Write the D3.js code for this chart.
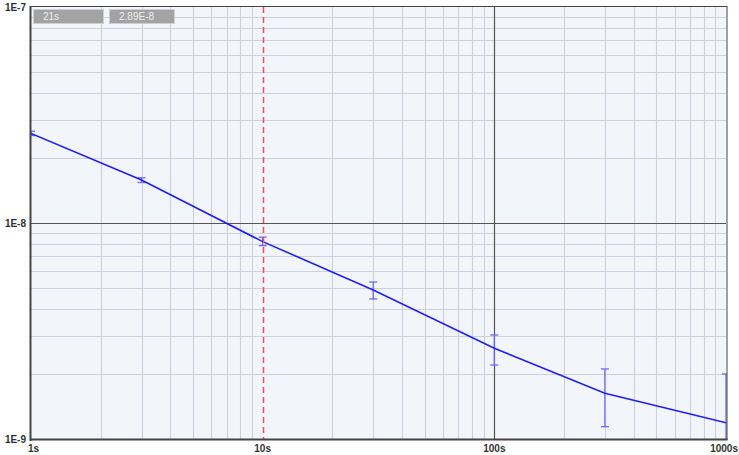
<!DOCTYPE html>
<html><head><meta charset="utf-8">
<script src="https://cdn.jsdelivr.net/npm/d3@7"></script>
<style>body{margin:0;background:#fff}svg{display:block}</style>
</head><body>
<svg id="c" width="739" height="455"></svg>
<script>
const taus = [1, 3, 10, 30, 100, 300, 1000];
const values = [2.6e-8, 1.58e-8, 8.2e-9, 4.9e-9, 2.63e-9, 1.63e-9, 1.19e-9];
const errLow = [2.54e-8, 1.54e-8, 7.85e-9, 4.45e-9, 2.2e-9, 1.14e-9, 0.7e-9];
const errHigh = [2.66e-8, 1.62e-8, 8.6e-9, 5.33e-9, 3.03e-9, 2.11e-9, 2.0e-9];
const xTicks = [1, 10, 100, 1000];
const xTickLabels = ["1s", "10s", "100s", "1000s"];
const yTicks = [1e-9, 1e-8, 1e-7];
const yTickLabels = ["1E-9", "1E-8", "1E-7"];
const cursorX = 10;
const readout = ["21s", "2.89E-8"];

const svg = d3.select("#c");
const L = 31, R = 726, T = 7, B = 439;
const x = d3.scaleLog().domain([1, 1000]).range([L, R]);
const y = d3.scaleLog().domain([1e-9, 1e-7]).range([B, T]);

svg.append("rect").attr("x", L).attr("y", T).attr("width", R - L).attr("height", B - T).attr("fill", "#f2f6fb");
svg.append("defs").append("clipPath").attr("id", "clip").append("rect")
  .attr("x", L).attr("y", T).attr("width", R - L + 1).attr("height", B - T);

const g = svg.append("g");
const xMinor = [], yMinor = [];
[1, 10, 100].forEach(d => { for (let k = 2; k <= 9; k++) xMinor.push(d * k); });
[1e-9, 1e-8].forEach(d => { for (let k = 2; k <= 9; k++) yMinor.push(d * k); });
g.selectAll(".vx").data(xMinor).join("line")
  .attr("x1", d => Math.round(x(d)) + 0.5).attr("x2", d => Math.round(x(d)) + 0.5)
  .attr("y1", T).attr("y2", B).attr("stroke", "#cbd2db").attr("stroke-width", 1.1);
g.selectAll(".hy").data(yMinor).join("line")
  .attr("y1", d => Math.round(y(d)) + 0.5).attr("y2", d => Math.round(y(d)) + 0.5)
  .attr("x1", L).attr("x2", R).attr("stroke", "#cbd2db").attr("stroke-width", 1.1);
g.selectAll(".mx").data(xTicks.filter(d => d > 1 && d < 1000 && d !== cursorX)).join("line")
  .attr("x1", d => Math.round(x(d)) + 0.5).attr("x2", d => Math.round(x(d)) + 0.5)
  .attr("y1", T).attr("y2", B).attr("stroke", "#555").attr("stroke-width", 1.2);
g.selectAll(".my").data(yTicks.filter(d => d > 1e-9 && d < 1e-7)).join("line")
  .attr("y1", d => Math.round(y(d)) + 0.5).attr("y2", d => Math.round(y(d)) + 0.5)
  .attr("x1", L).attr("x2", R).attr("stroke", "#555").attr("stroke-width", 1.2);

// data
const pg = svg.append("g").attr("clip-path", "url(#clip)");
const idx = d3.range(taus.length);
pg.selectAll(".eb").data(idx).join("line")
  .attr("x1", i => x(taus[i])).attr("x2", i => x(taus[i]))
  .attr("y1", i => y(errLow[i])).attr("y2", i => y(errHigh[i]))
  .attr("stroke", "#6a6aff").attr("stroke-width", 1.3);
pg.selectAll(".ct").data(idx).join("line")
  .attr("x1", i => x(taus[i]) - 4).attr("x2", i => x(taus[i]) + 4)
  .attr("y1", i => y(errHigh[i])).attr("y2", i => y(errHigh[i]))
  .attr("stroke", "#6a6aff").attr("stroke-width", 1.3);
pg.selectAll(".cb").data(idx).join("line")
  .attr("x1", i => x(taus[i]) - 4).attr("x2", i => x(taus[i]) + 4)
  .attr("y1", i => y(errLow[i])).attr("y2", i => y(errLow[i]))
  .attr("stroke", "#6a6aff").attr("stroke-width", 1.3);
pg.append("path").datum(idx)
  .attr("d", d3.line().x(i => x(taus[i])).y(i => y(values[i])))
  .attr("fill", "none").attr("stroke", "#1f1fff").attr("stroke-width", 1.6);

// cursor (drawn on top)
svg.append("line").attr("x1", Math.round(x(cursorX)) + 0.5).attr("x2", Math.round(x(cursorX)) + 0.5)
  .attr("y1", T).attr("y2", B).style("stroke", "#f84a5c").attr("stroke-width", 1.5)
  .attr("stroke-dasharray", "6,4");

// frame
svg.append("line").attr("x1", L).attr("x2", R + 1).attr("y1", T - 0.5).attr("y2", T - 0.5).attr("stroke", "#444").attr("stroke-width", 1);
svg.append("line").attr("x1", R + 1).attr("x2", R + 1).attr("y1", T - 1).attr("y2", B + 1).attr("stroke", "#444").attr("stroke-width", 1);
svg.append("line").attr("x1", L - 0.5).attr("x2", L - 0.5).attr("y1", T - 1).attr("y2", B + 2).attr("stroke", "#444").attr("stroke-width", 2);
svg.append("line").attr("x1", L - 1).attr("x2", R + 1.5).attr("y1", B + 0.5).attr("y2", B + 0.5).attr("stroke", "#444").attr("stroke-width", 2);

// labels
svg.selectAll(".xl").data(xTicks).join("text")
  .attr("x", d => x(d)).attr("y", 452)
  .attr("text-anchor", (d, i) => i === 0 ? "start" : (i === xTicks.length - 1 ? "end" : "middle"))
  .attr("dx", (d, i) => i === 0 ? -3 : (i === xTicks.length - 1 ? 12 : 0))
  .attr("font-family", "Liberation Sans, Arial, sans-serif").attr("font-size", 10).attr("font-weight", "bold")
  .attr("fill", "#333").text((d, i) => xTickLabels[i]);
svg.selectAll(".yl").data(yTicks).join("text")
  .attr("x", 26).attr("y", d => y(d) + 3.5).attr("text-anchor", "end")
  .attr("font-family", "Liberation Sans, Arial, sans-serif").attr("font-size", 10).attr("font-weight", "bold")
  .attr("fill", "#333").text((d, i) => yTickLabels[i]);

const boxes = [[33, 70], [109, 65]];
boxes.forEach((b, i) => {
  svg.append("rect").attr("x", b[0] + 0.5).attr("y", 9.5).attr("width", b[1]).attr("height", 14)
    .attr("fill", "#a3a3a3").attr("stroke", "#cfcfcf").attr("stroke-width", 1);
  svg.append("text").attr("x", b[0] + 10).attr("y", 20).attr("font-family", "Liberation Sans, Arial, sans-serif")
    .attr("font-size", 10).attr("fill", "#eeeeee").text(readout[i]);
});
</script>
</body></html>
